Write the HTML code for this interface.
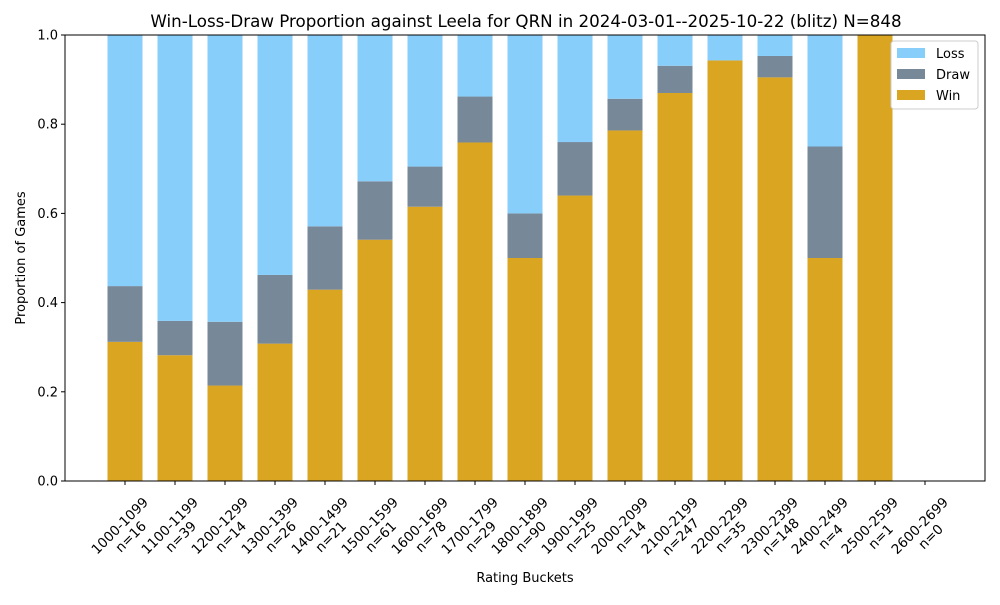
<!DOCTYPE html>
<html><head><meta charset="utf-8"><style>
body{margin:0;background:#fff;}
svg text{font-family:"DejaVu Sans","Liberation Sans",sans-serif;}
</style></head><body>
<svg id="chart" width="1000" height="600" xmlns="http://www.w3.org/2000/svg">
<rect width="1000" height="600" fill="#fff"/>
<text x="526" y="27" text-anchor="middle" font-size="16.7">Win-Loss-Draw Proportion against Leela for QRN in 2024-03-01--2025-10-22 (blitz) N=848</text>
<g id="bars"></g>
<g id="axes"></g>
<text x="525" y="582" text-anchor="middle" font-size="13">Rating Buckets</text>
<text transform="translate(25,258) rotate(-90)" text-anchor="middle" font-size="13">Proportion of Games</text>
<g>
<rect x="891" y="41" width="87" height="68" fill="#fff" stroke="#ccc" rx="3"/>
<rect x="897" y="48" width="28" height="10" fill="#87cefa"/>
<text x="936" y="58" font-size="13">Loss</text>
<rect x="897" y="69" width="28" height="10" fill="#778899"/>
<text x="936" y="79" font-size="13">Draw</text>
<rect x="897" y="90" width="28" height="10" fill="#daa520"/>
<text x="936" y="100" font-size="13">Win</text>
</g>
</svg>
<script>
const categories=["1000-1099","1100-1199","1200-1299","1300-1399","1400-1499","1500-1599","1600-1699","1700-1799","1800-1899","1900-1999","2000-2099","2100-2199","2200-2299","2300-2399","2400-2499","2500-2599","2600-2699"];
const counts=[16,39,14,26,21,61,78,29,90,25,14,247,35,148,4,1,0];
const winVals=[0.312,0.282,0.214,0.308,0.429,0.541,0.615,0.759,0.5,0.64,0.786,0.87,0.943,0.905,0.5,1,0];
const drawVals=[0.125,0.077,0.143,0.154,0.142,0.131,0.09,0.103,0.1,0.12,0.071,0.061,0,0.048,0.25,0,0];
const yTicks=[0,0.2,0.4,0.6,0.8,1.0];
const X0=65,X1=985,Y0=481,Y1=35;
const xMin=-1.2,xMax=17.2;
const sx=i=>X0+(i-xMin)/(xMax-xMin)*(X1-X0);
const sy=v=>Y0-v*(Y0-Y1);
const NS="http://www.w3.org/2000/svg";
const bars=document.getElementById('bars'),axes=document.getElementById('axes');
function mk(tag,attrs,parent){const e=document.createElementNS(NS,tag);for(const k in attrs)e.setAttribute(k,attrs[k]);parent.appendChild(e);return e;}
const bw=0.7*(sx(1)-sx(0));
categories.forEach((c,i)=>{
  const n=counts[i];if(n===0)return;
  const w=winVals[i],d=drawVals[i],l=1-w-d;
  const x=sx(i)-bw/2;
  let r=mk('rect',{x:x,y:sy(w),width:bw,height:sy(0)-sy(w),fill:'#daa520'},bars);
  
  
  r=mk('rect',{x:x,y:sy(w+d),width:bw,height:sy(w)-sy(w+d),fill:'#778899'},bars);
  
  
  r=mk('rect',{x:x,y:sy(w+d+l),width:bw,height:sy(w+d)-sy(w+d+l),fill:'#87cefa'},bars);
  
  
});
const frame=mk('rect',{x:X0,y:Y1,width:X1-X0,height:Y0-Y1,fill:'none',stroke:'#000','stroke-width':1},axes);


yTicks.forEach(t=>{
  mk('line',{x1:X0-4,x2:X0,y1:sy(t),y2:sy(t),stroke:'#000'},axes);
  const tx=mk('text',{x:X0-7,y:sy(t)+4.5,'text-anchor':'end','font-size':13},axes);
  tx.textContent=t.toFixed(1);
  
  
});
categories.forEach((c,i)=>{
  const x=sx(i);
  mk('line',{x1:x,x2:x,y1:Y0,y2:Y0+4,stroke:'#000'},axes);
  const g=mk('text',{transform:`translate(${x+24},${Y0+22}) rotate(-45)`,'text-anchor':'middle','font-size':13.5},axes);
  
  
  const t1=mk('tspan',{x:0,dy:0},g);t1.textContent=c;
  const w1=t1.getComputedTextLength()||74;
  t1.setAttribute('x',-w1/2);
  const t2=mk('tspan',{x:-w1/2,dy:15.5},g);t2.textContent='n='+counts[i];
});
</script>
</body></html>
